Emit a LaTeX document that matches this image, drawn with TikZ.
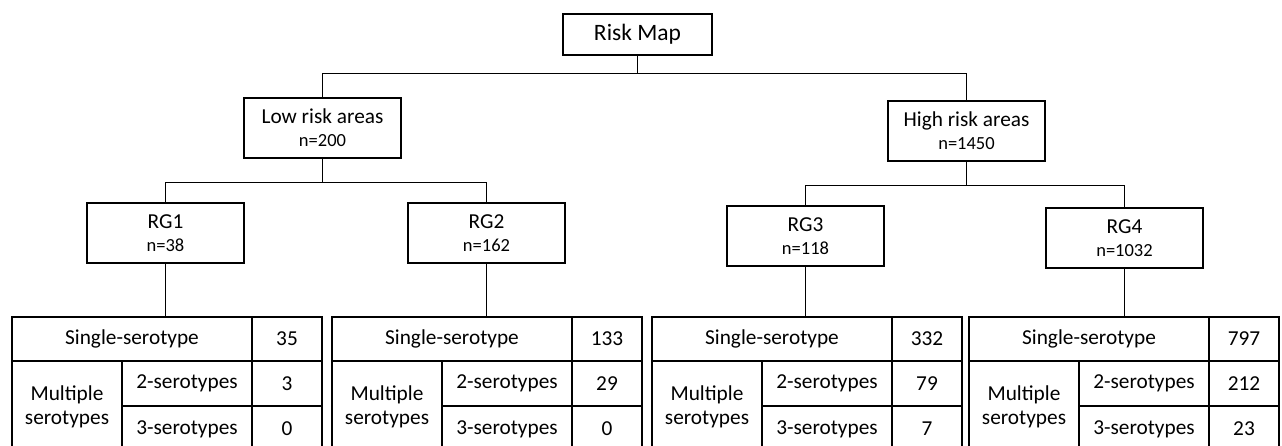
\documentclass[tikz,border=0pt]{standalone}
\usepackage{fontspec}
\setmainfont{Carlito}
\usepackage{tikz}
\newcommand\nsize{\fontsize{18.5}{23}\selectfont}
\tikzstyle{box}=[rectangle, draw, line width=1.4pt, align=center, inner sep=2pt, minimum width=157, minimum height=60, font=\fontsize{21.3}{23}\selectfont]
\tikzstyle{cell}=[rectangle, draw, line width=1.4pt, align=center, inner sep=0pt, font=\fontsize{21.3}{24}\selectfont]
\tikzstyle{link}=[line width=1.4pt]

\begin{document}
\begin{tikzpicture}[x=1pt,y=-1pt]
  \useasboundingbox (0,0) rectangle (1282,445);
  \clip (0,0) rectangle (1282,445);
  \node[box,minimum width=149,minimum height=41,font=\fontsize{23.5}{25}\selectfont] (risk) at (637.5,34.5) {Risk Map};
  \node[box] (low) at (322.5,128) {Low risk areas\\\nsize n=200};
  \node[box] (high) at (966.5,131) {High risk areas\\\nsize n=1450};
  \node[box] (rg1) at (165.5,233) {RG1\\\nsize n=38};
  \node[box] (rg2) at (486.5,233) {RG2\\\nsize n=162};
  \node[box] (rg3) at (805.5,236) {RG3\\\nsize n=118};
  \node[box] (rg4) at (1124.5,238) {RG4\\\nsize n=1032};
  \draw[link] (risk.south) -- ++(0,18) -| (low.north);
  \draw[link] (risk.south) -- ++(0,18) -| (high.north);
  \draw[link] (low.south) -- ++(0,24) -| (rg1.north);
  \draw[link] (low.south) -- ++(0,24) -| (rg2.north);
  \draw[link] (high.south) -- ++(0,24) -| (rg3.north);
  \draw[link] (high.south) -- ++(0,24) -| (rg4.north);
  \foreach \t/\x/\a/\b/\c in {1/12/35/3/0,2/332/133/29/0,3/652/332/79/7,4/969/797/212/23}{
    \node[cell,minimum width=240,minimum height=44] (s\t) at (\x+120,339) {Single-serotype};
    \node[cell,minimum width=70,minimum height=44] (ns\t) at (\x+275,339) {\a};
    \node[cell,minimum width=110,minimum height=91] (m\t) at (\x+55,406.5) {Multiple\\serotypes};
    \node[cell,minimum width=130,minimum height=45] (two\t) at (\x+175,383.5) {2-serotypes};
    \node[cell,minimum width=70,minimum height=45] (ntwo\t) at (\x+275,383.5) {\b};
    \node[cell,minimum width=130,minimum height=46] (three\t) at (\x+175,429) {3-serotypes};
    \node[cell,minimum width=70,minimum height=46] (nthree\t) at (\x+275,429) {\c};
    \draw[link] (rg\t.south) -- (rg\t.south |- s\t.north);
  }
\end{tikzpicture}
\end{document}
